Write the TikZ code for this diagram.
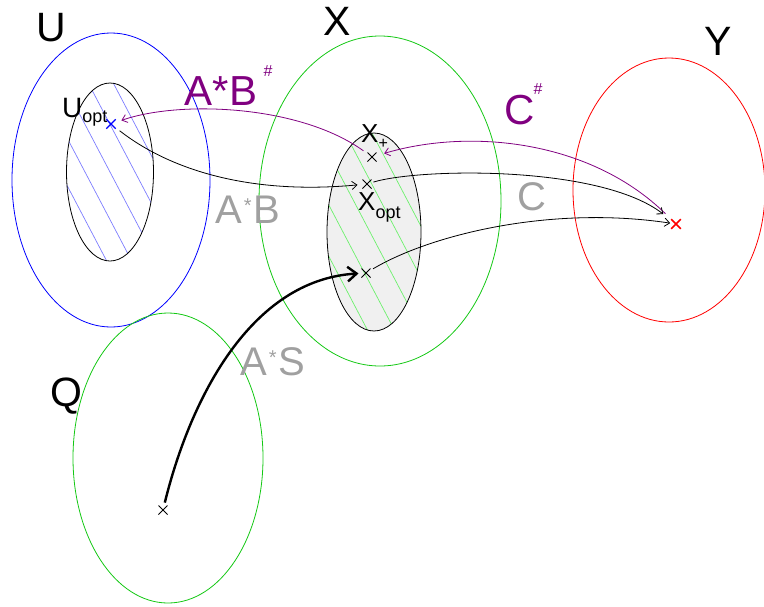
\documentclass[tikz,border=0pt]{standalone}
\usepackage{fontspec}
\setmainfont{Liberation Sans}
\usetikzlibrary{shapes.misc,arrows.meta}
\definecolor{setgreen}{RGB}{20,200,20}
\definecolor{hatchgreen}{RGB}{110,240,110}
\definecolor{hatchblue}{RGB}{125,125,255}
\definecolor{optfill}{RGB}{240,240,240}
\definecolor{mapgray}{RGB}{160,160,160}
\definecolor{dualpurple}{RGB}{128,0,128}
\newcommand{\fsize}[1]{\fontsize{#1}{#1}\selectfont}
\begin{document}
\begin{tikzpicture}[
  x=1pt, y=-1pt,
  >={Straight Barb[length=3pt 2.5, width=5pt 4]},
  set/.style={line width=0.8pt},
  hatch/.style={line width=0.7pt},
  pt/.style={draw, cross out, inner sep=0pt, minimum size=8pt, line width=1pt},
  setname/.style={font=\fsize{41}},
  sublabel/.style={anchor=base west, inner sep=0pt, font=\fsize{26}},
  maplabel/.style={anchor=base west, inner sep=0pt, font=\fsize{40}, text=mapgray},
  duallabel/.style={font=\fsize{42}, text=dualpurple},
  dualsharp/.style={font=\fsize{16}, text=dualpurple},
  map/.style={->, line width=0.8pt},
  dual/.style={->, line width=0.8pt, draw=dualpurple}
]
\useasboundingbox (0,0) rectangle (764,606);

\draw[set, blue] (111,180) ellipse [x radius=99, y radius=147];
\draw[set, setgreen] (380,201) ellipse [x radius=121, y radius=165];
\draw[set, red] (669,190) ellipse [x radius=96, y radius=132];
\draw[set, setgreen] (168,458) ellipse [x radius=95, y radius=145];

\begin{scope}
  \clip (110,172) ellipse [x radius=43.5, y radius=89];
  \foreach \i in {-8,...,8}
    \draw[hatch, hatchblue] ({5+25*\i},-28) -- ++(210,400);
\end{scope}
\draw[set] (110,172) ellipse [x radius=43.5, y radius=89];

\fill[optfill] (374,232) ellipse [x radius=47, y radius=99];
\begin{scope}
  \clip (374,232) ellipse [x radius=47, y radius=99];
  \foreach \i in {-8,...,8}
    \draw[hatch, hatchgreen] ({265+27*\i},32) -- ++(210,400);
\end{scope}
\draw[set] (374,232) ellipse [x radius=47, y radius=99];

\node[setname] (uname) at (51,28) {U};
\node[setname] (xname) at (337,21) {X};
\node[setname] (yname) at (718,41) {Y};
\node[setname] (qname) at (66,396) {Q};

\node[pt, blue, line width=1.4pt] (uopt) at (111,124) {};
\node[pt] (xplus) at (372,157) {};
\node[pt] (xopt) at (367,184) {};
\node[pt] (xlow) at (366,273) {};
\node[pt, red, line width=1.6pt] (ypt) at (676,224) {};
\node[pt] (qpt) at (163,510) {};

\node[sublabel, font=\fsize{28}] (uoptlabel) at (62,117) {U\raisebox{-5pt}{\fsize{18}opt}};
\node[sublabel] (xpluslabel) at (361,142) {X\raisebox{-6pt}{\fsize{16}+}};
\node[sublabel] (xoptlabel) at (358,210) {X\raisebox{-8pt}{\fsize{18}opt}};

\node[duallabel] (ABdual) at (221,91) {A*B};
\node[dualsharp] (ABsharp) at (268,71) {\#};
\node[duallabel] (Cdual) at (520,110) {C};
\node[dualsharp] (Csharp) at (538,89) {\#};

\node[maplabel] (ABmap) at (215,223) {A\hspace{2pt}\raisebox{11pt}{\fsize{20}*}\hspace{2pt}B};
\node[maplabel, anchor=center] (Cmap) at (532,197) {C};
\node[maplabel] (ASmap) at (240,375) {A\hspace{2pt}\raisebox{11pt}{\fsize{20}*}\hspace{2pt}S};

\draw[dual, shorten <=5pt, shorten >=6pt] (xplus) .. controls (300,105) and (180,100) .. (uopt);
\draw[dual, shorten <=8pt, shorten >=8pt] (ypt) .. controls (590,140) and (470,128) .. (xplus);
\draw[map, shorten <=5pt, shorten >=5pt] (uopt) .. controls (170,170) and (250,195) .. (xopt);
\draw[map, shorten <=2pt, shorten >=10pt] (xopt) .. controls (420,168) and (600,165) .. (ypt);
\draw[map, shorten <=3pt, shorten >=1pt] (xlow) .. controls (430,235) and (550,205) .. (ypt);
\draw[->, line width=2.4pt, shorten <=3pt, shorten >=3pt] (qpt) .. controls (190,400) and (250,280) .. (xlow);
\end{tikzpicture}
\end{document}
